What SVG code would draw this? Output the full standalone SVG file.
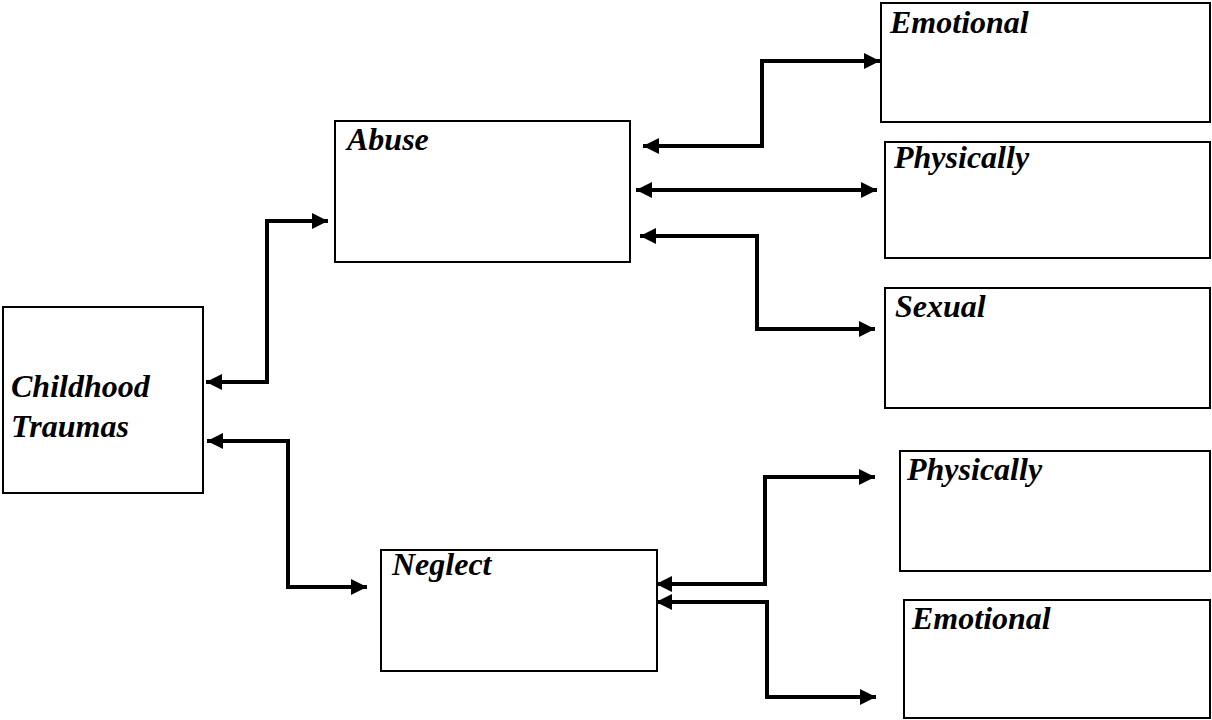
<svg xmlns="http://www.w3.org/2000/svg" width="1212" height="720" viewBox="0 0 1212 720">
<style>
.box{fill:#fff;stroke:#000;stroke-width:2}
.lbl{font-family:"Liberation Serif","Times New Roman",serif;font-weight:bold;font-style:italic;font-size:32px;fill:#000}
.con{fill:none;stroke:#000;stroke-width:4}
</style>
<defs>
<marker id="ah" viewBox="0 0 16 16" refX="16" refY="8" markerWidth="16" markerHeight="16" markerUnits="userSpaceOnUse" orient="auto-start-reverse">
<path d="M0,0 L16,8 L0,16 Z" fill="#000"/>
</marker>
</defs>
<g id="childhood"><rect class="box" x="3" y="307" width="200" height="186"/><text class="lbl" x="11" y="397">Childhood</text><text class="lbl" x="11" y="437">Traumas</text></g>
<g id="abuse"><rect class="box" x="335" y="121" width="295" height="141"/><text class="lbl" x="347" y="150">Abuse</text></g>
<g id="neglect"><rect class="box" x="381" y="550" width="276" height="121"/><text class="lbl" x="392" y="575">Neglect</text></g>
<g id="emotional1"><rect class="box" x="881" y="3" width="329" height="119"/><text class="lbl" x="890" y="33">Emotional</text></g>
<g id="physically1"><rect class="box" x="885" y="142" width="325" height="116"/><text class="lbl" x="894" y="168">Physically</text></g>
<g id="sexual"><rect class="box" x="885" y="288" width="325" height="120"/><text class="lbl" x="895" y="317">Sexual</text></g>
<g id="physically2"><rect class="box" x="900" y="451" width="310" height="120"/><text class="lbl" x="907" y="480">Physically</text></g>
<g id="emotional2"><rect class="box" x="904" y="600" width="306" height="118"/><text class="lbl" x="912" y="629">Emotional</text></g>
<g id="connectors">
<path class="con" d="M643,146 H762 V61 H880" marker-start="url(#ah)" marker-end="url(#ah)"/>
<path class="con" d="M636,190 H877" marker-start="url(#ah)" marker-end="url(#ah)"/>
<path class="con" d="M640,236 H757 V329 H875" marker-start="url(#ah)" marker-end="url(#ah)"/>
<path class="con" d="M206,382 H267 V221 H328" marker-start="url(#ah)" marker-end="url(#ah)"/>
<path class="con" d="M207,441 H288 V587 H367" marker-start="url(#ah)" marker-end="url(#ah)"/>
<path class="con" d="M656,584 H765 V477 H875" marker-start="url(#ah)" marker-end="url(#ah)"/>
<path class="con" d="M656,602 H767 V697 H876" marker-start="url(#ah)" marker-end="url(#ah)"/>
</g>
</svg>
